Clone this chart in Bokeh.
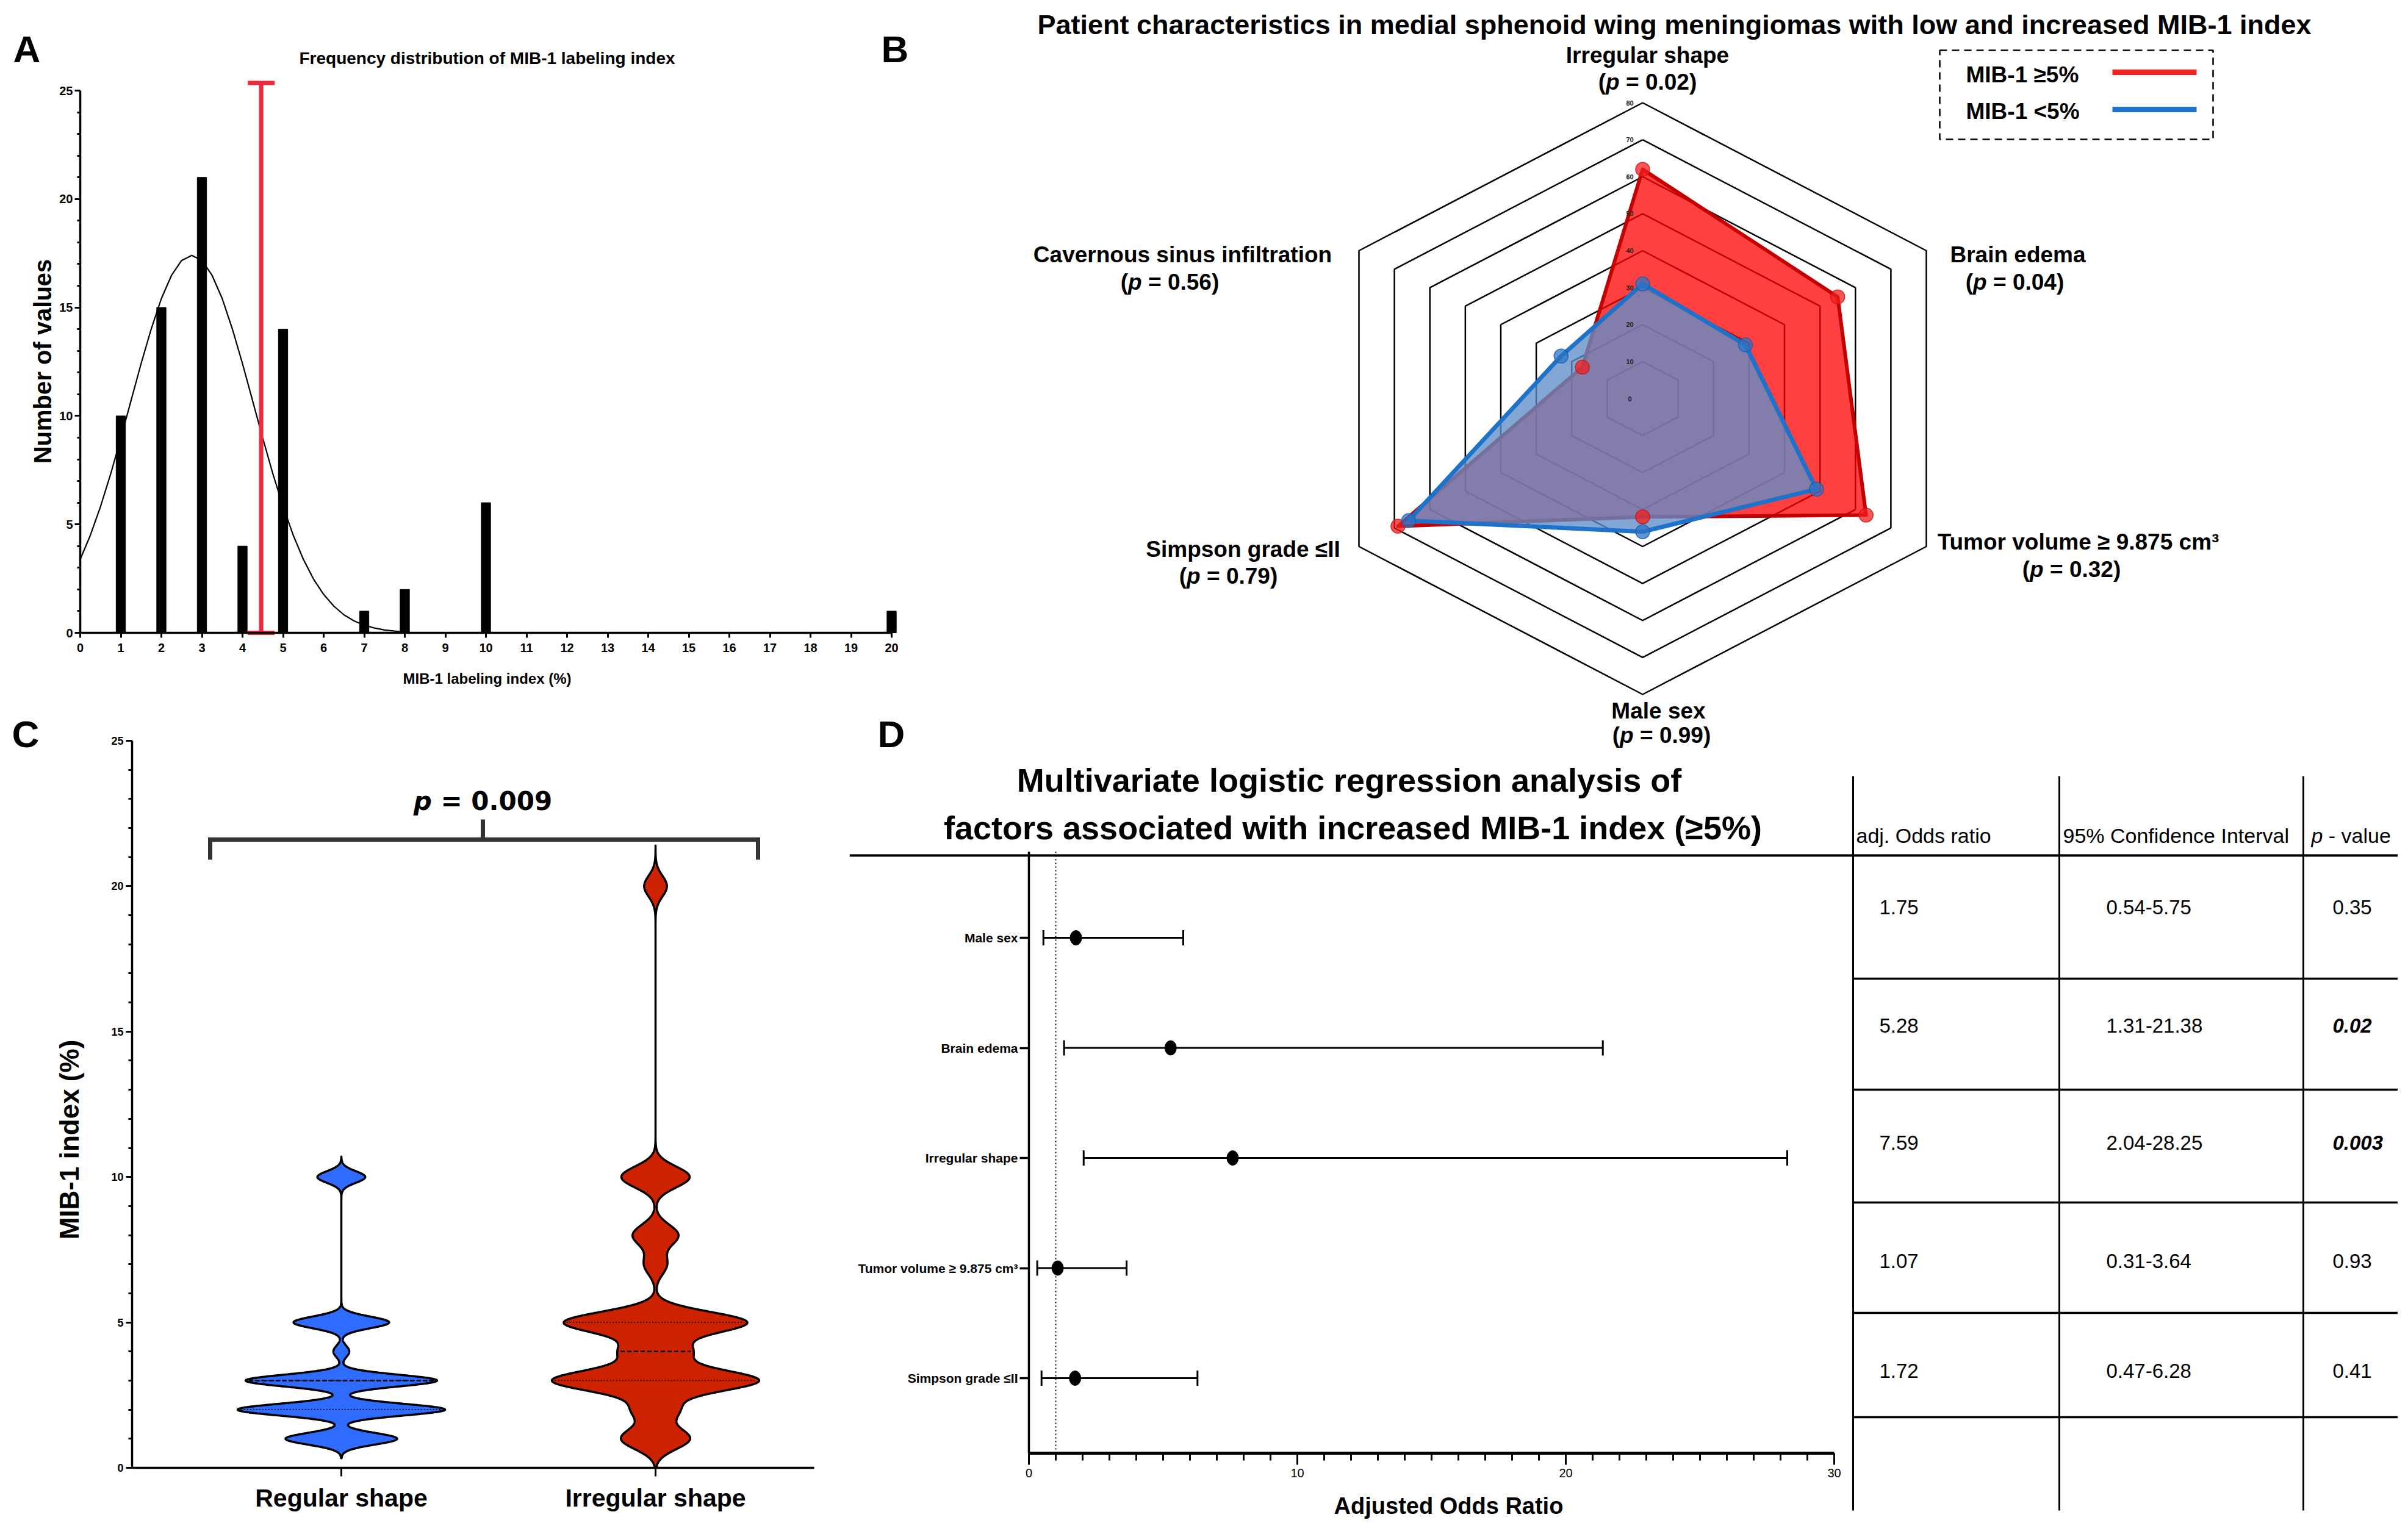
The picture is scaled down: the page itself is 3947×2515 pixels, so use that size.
import numpy as np
from bokeh.plotting import figure
from bokeh.layouts import row, column
from bokeh.models import Range1d, FixedTicker
from bokeh.core.properties import value
from bokeh.embed import file_html
from bokeh.resources import INLINE

SANS = "Liberation Sans"
DJV = "DejaVu Sans"

# ---------------- Panel A data ----------------
hist_index = [1, 2, 3, 4, 5, 7, 8, 10, 20]
hist_count = [10, 15, 21, 4, 14, 1, 2, 6, 1]
fit_x = [0.0, 0.25, 0.5, 0.75, 1.0, 1.25, 1.5, 1.75, 2.0, 2.25, 2.5, 2.75, 3.0, 3.25,
         3.5, 3.75, 4.0, 4.25, 4.5, 4.75, 5.0, 5.25, 5.5, 5.75, 6.0, 6.25, 6.5, 6.75,
         7.0, 7.25, 7.5, 7.75, 8.0]
fit_y = [3.39, 4.50, 5.82, 7.32, 8.97, 10.69, 12.41, 14.01, 15.41, 16.48, 17.17, 17.40,
         17.17, 16.48, 15.41, 14.01, 12.41, 10.69, 8.97, 7.32, 5.82, 4.50, 3.39, 2.48,
         1.77, 1.23, 0.83, 0.55, 0.35, 0.22, 0.13, 0.08, 0.04]
cutoff_x = [4.46]
cutoff_lo = [0.0]
cutoff_hi = [25.35]
hist_xticks = list(range(0, 21))
hist_yticks = [0, 5, 10, 15, 20, 25]

# ---------------- Panel B data ----------------
radar_axes = ["Irregular shape", "Brain edema", "Tumor volume \u2265 9.875 cm\u00b3",
              "Male sex", "Simpson grade \u2264II", "Cavernous sinus infiltration"]
radar_p = ["0.02", "0.04", "0.32", "0.99", "0.79", "0.56"]
radar_high = [62, 55, 63, 32, 69, 17]   # MIB-1 >=5%
radar_low = [31, 29, 49, 36, 66, 23]    # MIB-1 <5%
radar_rings = [10, 20, 30, 40, 50, 60, 70, 80]
radar_ring_labels = [0, 10, 20, 30, 40, 50, 60, 70, 80]
series_names = ["MIB-1 \u22655%", "MIB-1 <5%"]

# ---------------- Panel C data ----------------
shape_groups = ["Regular shape", "Irregular shape"]
reg_index = [1, 2, 3, 4, 5, 10]
reg_count = [7, 13, 12, 1, 6, 3]
irr_index = [1, 2, 3, 4, 5, 7, 8, 10, 20]
irr_count = [3, 2, 9, 3, 8, 1, 2, 3, 1]
shape_yticks = [0, 5, 10, 15, 20, 25]
shape_p = "0.009"

# ---------------- Panel D data ----------------
factors = ["Male sex", "Brain edema", "Irregular shape",
           "Tumor volume \u2265 9.875 cm\u00b3", "Simpson grade \u2264II"]
odds = [1.75, 5.28, 7.59, 1.07, 1.72]
ci_lo = [0.54, 1.31, 2.04, 0.31, 0.47]
ci_hi = [5.75, 21.38, 28.25, 3.64, 6.28]
pvals = ["0.35", "0.02", "0.003", "0.93", "0.41"]
table_header = ["adj. Odds ratio", "95% Confidence Interval", "p - value"]
or_xticks = [0, 10, 20, 30]
or_reference = [1.0]

# ---------------- helpers ----------------
ARIAL_B = {' ': 0.278, '(': 0.333, ')': 0.333, '=': 0.584, '.': 0.278, '-': 0.333, 'p': 0.611}
ARIAL_R = {' ': 0.278, '(': 0.333, ')': 0.333, '=': 0.584, '.': 0.278, '-': 0.333, 'p': 0.556}
DJV_B = {' ': 0.348, '=': 0.838, '.': 0.380, 'p': 0.716}


def text_width(s, size, kind):
    if kind == "bold":
        t, d = ARIAL_B, 0.556
    elif kind == "regular":
        t, d = ARIAL_R, 0.556
    else:
        t, d = DJV_B, 0.696
    return sum((d if c.isdigit() else t.get(c, 0.55)) for c in s) * size


def make_fig(w, h, fx, fy, x0, x1, ytop, ybot, axes=True):
    kw = dict(width=w, height=h, x_range=Range1d(fx(x0), fx(x1)),
              y_range=Range1d(fy(ybot), fy(ytop)), output_backend="svg",
              toolbar_location=None, min_border=0)
    if not axes:
        kw.update(x_axis_type=None, y_axis_type=None)
    p = figure(**kw)
    p.min_border_left = 0
    p.min_border_right = 0
    p.min_border_top = 0
    p.min_border_bottom = 0
    p.outline_line_color = None
    p.background_fill_color = "white"
    p.border_fill_color = "white"
    if axes:
        p.xgrid.visible = False
        p.ygrid.visible = False
    return p


def txt(p, fx, fy, X, Y, s, size, font=SANS, style="bold", align="center",
        baseline="middle", angle=0.0, color="black"):
    p.text(x=[fx(X)], y=[fy(Y)], text=[s], text_font=value(font),
           text_font_size=value(f"{size}px"), text_font_style=style,
           text_align=align, text_baseline=baseline, angle=angle, text_color=color)


def rich(p, fx, fy, X, Y, parts, size, font, kind, bold=True, align="center"):
    total = sum(text_width(t, size, kind) for t, _ in parts)
    x = X - total / 2.0 if align == "center" else X
    for t, it in parts:
        lead = len(t) - len(t.lstrip(" "))
        xs = x + text_width(" " * lead, size, kind)
        if bold:
            style = "bold italic" if it else "bold"
        else:
            style = "italic" if it else "normal"
        txt(p, fx, fy, xs, Y, t.strip(" "), size, font, style, align="left")
        x += text_width(t, size, kind)


def style_axis(ax, lw, major_out, minor_out, font, size, fstyle, standoff, tick_lw=None):
    ax.axis_line_width = lw
    ax.axis_line_color = "black"
    ax.major_tick_line_color = "black"
    ax.minor_tick_line_color = "black"
    ax.major_tick_line_width = tick_lw if tick_lw else lw
    ax.minor_tick_line_width = tick_lw if tick_lw else lw
    ax.major_tick_in = 0
    ax.major_tick_out = major_out
    ax.minor_tick_in = 0
    ax.minor_tick_out = minor_out
    ax.major_label_text_font = font
    ax.major_label_text_font_size = f"{size}px"
    ax.major_label_text_font_style = fstyle
    ax.major_label_text_color = "black"
    ax.major_label_standoff = standoff


TOP_H = 1140            # height of the upper row (A, B)
SPLIT_Y = 8 + TOP_H     # reference-pixel y where the lower row starts

# =============== Panel A ===============
def XA(X): return (X - 139.0) / 66.5
def YA(Y): return (1045.0 - Y) / 35.56

pA = make_fig(1492, TOP_H, XA, YA, 8, 1500, 8, SPLIT_Y)
pA.vbar(x=hist_index, top=hist_count, width=0.23, fill_color="black", line_color="black")
pA.line(fit_x, fit_y, line_width=2.2, line_color="black")
RED_A = "#ee2a3c"
pA.segment(x0=cutoff_x, y0=cutoff_lo, x1=cutoff_x, y1=cutoff_hi, line_width=7, line_color=RED_A)
pA.segment(x0=[cutoff_x[0] - 0.33] * 2, y0=[cutoff_lo[0], cutoff_hi[0]],
           x1=[cutoff_x[0] + 0.33] * 2, y1=[cutoff_lo[0], cutoff_hi[0]],
           line_width=7, line_color=RED_A)
xa = pA.xaxis[0]
ya = pA.yaxis[0]
xa.fixed_location = 0
ya.fixed_location = 0
xa.bounds = (0, 20)
ya.bounds = (0, 25)
xa.ticker = FixedTicker(ticks=hist_xticks)
ya.ticker = FixedTicker(ticks=hist_yticks, minor_ticks=[i for i in range(26) if i % 5])
style_axis(xa, 3.5, 8, 0, SANS, 20, "bold", 9, 3)
style_axis(ya, 3.5, 9, 5, SANS, 20, "bold", 3, 3)
txt(pA, XA, YA, 806, 103, "Frequency distribution of MIB-1 labeling index", 28)
txt(pA, XA, YA, 806, 1120, "MIB-1 labeling index (%)", 24)
txt(pA, XA, YA, 77, 600, "Number of values", 40, angle=np.pi / 2)
txt(pA, XA, YA, 29, 88, "A", 62, align="left", baseline="alphabetic")
txt(pA, XA, YA, 1452, 88, "B", 62, align="left", baseline="alphabetic")

# =============== Panel B (radar) ===============
def XB(X): return (X - 2700.0) / 6.712
def YB(Y): return (661.0 - Y) / 6.0625

pB = make_fig(2438, TOP_H, XB, YB, 1500, 3938, 8, SPLIT_Y, axes=False)
ang = np.arange(6) * np.pi / 3.0
closed = np.r_[ang, 0.0]
pB.multi_line(xs=[list(r * np.sin(closed)) for r in radar_rings],
              ys=[list(r * np.cos(closed)) for r in radar_rings],
              line_color="black", line_width=2.5)
hi = np.array(radar_high, dtype=float)
lo = np.array(radar_low, dtype=float)
pB.patch(x=list(hi * np.sin(ang)), y=list(hi * np.cos(ang)), fill_color="#ff0000",
         fill_alpha=0.75, line_color="#c40000", line_width=6, line_join="round")
pB.patch(x=list(lo * np.sin(ang)), y=list(lo * np.cos(ang)), fill_color="#5f8ec8",
         fill_alpha=0.78, line_color="#1f72c9", line_width=7, line_join="round")
for r in radar_ring_labels:
    pB.text(x=[XB(2679)], y=[r], text=[str(r)], text_font=value(SANS),
            text_font_size=value("11px"), text_font_style="bold", text_align="center",
            text_baseline="middle", text_color="#222222")
pB.scatter(x=list(hi * np.sin(ang)), y=list(hi * np.cos(ang)), size=23,
           fill_color="#f01e1e", fill_alpha=0.75, line_color="#d01010", line_alpha=0.8, line_width=1.5)
pB.scatter(x=list(lo * np.sin(ang)), y=list(lo * np.cos(ang)), size=23,
           fill_color="#2a74c6", fill_alpha=0.75, line_color="#1a5aa8", line_alpha=0.8, line_width=1.5)

txt(pB, XB, YB, 2752, 48,
    "Patient characteristics in medial sphenoid wing meningiomas with low and increased MIB-1 index", 45)
LAB = 37
label_pos = [(2708, 98, 2708, 142), (3315, 425, 3310, 470), (3414, 896, 3403, 941),
             None, (2045, 908, 2021, 952), (1946, 425, 1925, 470)]
for k in range(6):
    if label_pos[k] is None:
        continue
    x1, y1, x2, y2 = label_pos[k]
    txt(pB, XB, YB, x1, y1, radar_axes[k], LAB)
    rich(pB, XB, YB, x2, y2, [("(", False), ("p", True), (" = " + radar_p[k] + ")", False)],
         LAB, SANS, "bold")
# legend
pB.quad(left=[XB(3187)], right=[XB(3635)], top=[YB(90)], bottom=[YB(236)], fill_color=None,
        line_color="black", line_width=2.5, line_dash="12 8")
txt(pB, XB, YB, 3230, 130, series_names[0], LAB, align="left")
txt(pB, XB, YB, 3230, 190, series_names[1], LAB, align="left")
pB.segment(x0=[XB(3470)] * 2, y0=[YB(126), YB(187)], x1=[XB(3608)] * 2, y1=[YB(126), YB(187)],
           line_color=["#ee2222", "#1f72c9"], line_width=9)

# =============== Panel C (violins) ===============
def XC(X): return 1.0 + (X - 567.0) / 515.0
def YC(Y): return (2414.0 - Y) / 47.68

pC = make_fig(1392, 2495 - TOP_H, XC, YC, 8, 1400, SPLIT_Y, 2503)
VIOLIN_HALF = 0.33


def violin(p, center, vals, counts, bw, y_lo, y_hi, color):
    ys = np.linspace(y_lo, y_hi, 1600)
    dens = np.zeros_like(ys)
    for v, c in zip(vals, counts):
        dens += c * np.exp(-0.5 * ((ys - v) / bw) ** 2)
    hw = VIOLIN_HALF * dens / dens.max()
    xs = np.concatenate([center - hw, (center + hw)[::-1]])
    yy = np.concatenate([ys, ys[::-1]])
    p.patch(x=list(xs), y=list(yy), fill_color=color, line_color="black", line_width=3.5,
            line_join="round")
    data = np.repeat(vals, counts)
    q1, med, q3 = np.percentile(data, [25, 50, 75], method="nearest")
    for q, dash, w in [(q1, "2 3", 1.8), (q3, "2 3", 1.8), (med, "7 4", 2.6)]:
        h = float(np.interp(q, ys, hw)) - 0.01
        p.segment(x0=[center - h], y0=[q], x1=[center + h], y1=[q], line_color="black",
                  line_width=w, line_dash=dash)


violin(pC, 1.0, reg_index, reg_count, 0.2, 0.33, 10.7, "#2f6bff")
violin(pC, 2.0, irr_index, irr_count, 0.36, 0.0, 21.4, "#cc2200")

xc = pC.xaxis[0]
yc = pC.yaxis[0]
xc.fixed_location = 0
yc.fixed_location = XC(224)
xc.bounds = (XC(224), XC(1342))
yc.bounds = (0, 25)
xc.ticker = FixedTicker(ticks=[1, 2])
xc.major_label_overrides = {1: shape_groups[0], 2: shape_groups[1]}
yc.ticker = FixedTicker(ticks=shape_yticks, minor_ticks=[i for i in range(26) if i % 5])
style_axis(xc, 3.5, 14, 0, SANS, 41, "bold", 12, 3)
style_axis(yc, 3.5, 10, 6, SANS, 18, "bold", 4, 3)
# significance bracket
pC.multi_line(xs=[[XC(352), XC(352), XC(1250), XC(1250)], [XC(799), XC(799)]],
              ys=[[YC(1417), YC(1384), YC(1384), YC(1417)], [YC(1384), YC(1351)]],
              line_color="#333333", line_width=7, line_join="miter")
rich(pC, XC, YC, 799, 1321, [("p", True), (" = " + shape_p, False)], 42, DJV, "djv")
txt(pC, XC, YC, 121, 1876, "MIB-1 index (%)", 44, angle=np.pi / 2)
txt(pC, XC, YC, 27, 1211, "C", 62, align="left", baseline="alphabetic")

# =============== Panel D (forest + table) ===============
def XD(X): return (X - 1694.0) / 44.0
def YD(Y): return 1.0 + (2267.0 - Y) / 180.5

pD = make_fig(2538, 2495 - TOP_H, XD, YD, 1400, 3938, SPLIT_Y, 2503)
rows_y = [5, 4, 3, 2, 1]
cap = 12.5 / 180.5
pD.segment(x0=or_reference, y0=[YD(2390)], x1=or_reference, y1=[YD(1404)],
           line_color="black", line_width=2, line_dash="2 4")
pD.segment(x0=ci_lo, y0=rows_y, x1=ci_hi, y1=rows_y, line_color="black", line_width=3)
pD.segment(x0=ci_lo, y0=[y - cap for y in rows_y], x1=ci_lo, y1=[y + cap for y in rows_y],
           line_color="black", line_width=3)
pD.segment(x0=ci_hi, y0=[y - cap for y in rows_y], x1=ci_hi, y1=[y + cap for y in rows_y],
           line_color="black", line_width=3)
pD.ellipse(x=odds, y=rows_y, width=19, height=24, width_units="screen", height_units="screen",
           fill_color="black", line_color="black")

xd = pD.xaxis[0]
yd = pD.yaxis[0]
xd.fixed_location = YD(2390)
yd.fixed_location = 0
xd.bounds = (0, 30)
yd.bounds = (YD(2390), YD(1404))
xd.ticker = FixedTicker(ticks=or_xticks, minor_ticks=[i for i in range(31) if i % 10])
yd.ticker = FixedTicker(ticks=rows_y)
yd.major_label_overrides = {rows_y[i]: factors[i] for i in range(5)}
style_axis(xd, 5, 19, 12, SANS, 20, "normal", 6, 3)
style_axis(yd, 3.5, 15, 0, SANS, 21, "bold", 3, 3.5)
txt(pD, XD, YD, 2382, 2476, "Adjusted Odds Ratio", 38)

# titles and rule
txt(pD, XD, YD, 2219, 1286, "Multivariate logistic regression analysis of", 54)
txt(pD, XD, YD, 2225, 1364, "factors associated with increased MIB-1 index (\u22655%)", 54)
pD.segment(x0=[XD(1400)], y0=[YD(1410)], x1=[XD(3938)], y1=[YD(1410)], line_color="black",
           line_width=4)
# table grid
for X in [3045, 3383, 3783]:
    pD.segment(x0=[XD(X)], y0=[YD(1280)], x1=[XD(X)], y1=[YD(2484)], line_color="black",
               line_width=3)
for Y in [1612, 1794, 1979, 2160, 2331]:
    pD.segment(x0=[XD(3045)], y0=[YD(Y)], x1=[XD(3938)], y1=[YD(Y)], line_color="black",
               line_width=3.5)
TB = 34
txt(pD, XD, YD, 3050, 1377, table_header[0], TB, style="normal", align="left")
txt(pD, XD, YD, 3389, 1377, table_header[1], TB, style="normal", align="left")
rich(pD, XD, YD, 3796, 1377, [("p", True), (table_header[2][1:], False)], TB, SANS, "regular",
     bold=False, align="left")
row_centers = [1495, 1689, 1881, 2075, 2255]
TV = 33
for i in range(5):
    Y = row_centers[i]
    txt(pD, XD, YD, 3088, Y, f"{odds[i]:.2f}", TV, style="normal", align="left")
    txt(pD, XD, YD, 3460, Y, f"{ci_lo[i]:.2f}-{ci_hi[i]:.2f}", TV, style="normal", align="left")
    sig = float(pvals[i]) < 0.05
    txt(pD, XD, YD, 3831, Y, pvals[i], TV, style="bold italic" if sig else "normal", align="left")
txt(pD, XD, YD, 1446, 1211, "D", 62, align="left", baseline="alphabetic")
# bottom label of the radar in panel B (it reaches into this area)
txt(pD, XD, YD, 2726, 1173, radar_axes[3], LAB)
rich(pD, XD, YD, 2731, 1213, [("(", False), ("p", True), (" = " + radar_p[3] + ")", False)],
     LAB, SANS, "bold")

layout = column(row(pA, pB), row(pC, pD))
open("out.html", "w").write(file_html(layout, INLINE))
